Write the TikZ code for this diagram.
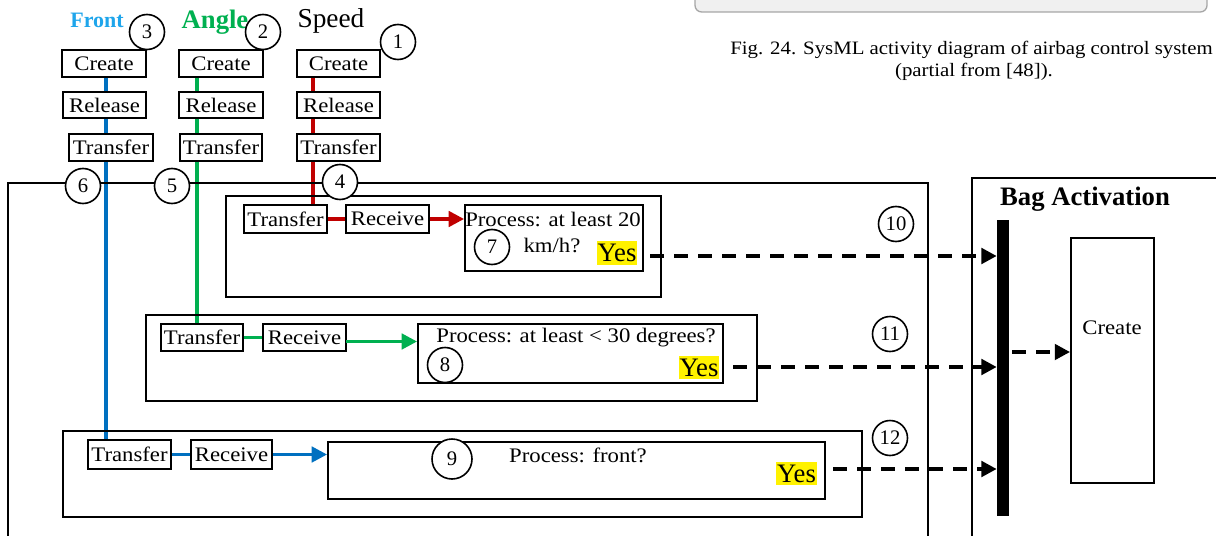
\documentclass[tikz,border=0pt]{standalone}
\usepackage{fontspec}
\setmainfont{Liberation Serif}
\newfontfamily\wide[FakeStretch=1.1]{Liberation Serif}
\usetikzlibrary{arrows.meta,backgrounds,calc}
\definecolor{cred}{RGB}{192,0,0}
\definecolor{cgreen}{RGB}{0,176,80}
\definecolor{cblue}{RGB}{0,112,192}
\definecolor{cfront}{RGB}{30,165,235}
\begin{document}
\begin{tikzpicture}[x=0.75pt,y=-0.75pt,
  sz/.style 2 args={minimum width={#1*0.75pt}, minimum height={#2*0.75pt}},
  abox/.style={draw, line width=1.4pt, fill=white, inner sep=0pt, font=\wide\fontsize{15.5}{18}\selectfont},
  panel/.style={draw, line width=1.4pt, inner sep=0pt},
  ptext/.style={inner sep=0pt, font=\wide\fontsize{15.5}{18}\selectfont},
  num/.style={draw, circle, line width=1.2pt, fill=white, inner sep=0pt, minimum size={35*0.75pt}, font=\fontsize{15.5}{18}\selectfont},
  flow/.style={line width=2.6pt},
  flowarrow/.style={line width=2.6pt, -{Triangle[length=11.5pt,width=11.5pt]}},
  yes/.style={fill=yellow, inner xsep=0.5pt, inner ysep=2pt, font=\fontsize{20}{22}\selectfont},
  signal/.style={line width=3pt, dash pattern=on 10.5pt off 7.5pt, -{Triangle[length=11.5pt,width=11.5pt]}},
  frame/.style={line width=1.4pt}
]
\clip (0,0) rectangle (1216,535);
\useasboundingbox (0,0) rectangle (1216,535);

% remnant of figure above caption
\draw[gray!70, fill=gray!12, rounded corners=5pt, line width=1pt] (695,-20) rectangle (1207,12);

% caption
\node[anchor=base west, inner sep=0pt, font=\wide\fontsize{14.2}{16}\selectfont] (cap1) at (730,55) {Fig. 24. SysML activity diagram of airbag control system};
\node[anchor=base, inner sep=0pt, font=\wide\fontsize{14.2}{16}\selectfont] (cap2) at (974,76) {(partial from [48]).};

% frames
\draw[frame] (8,540) -- (8,183) -- (928,183) -- (928,540);
\draw[frame] (972,540) -- (972,178) -- (1230,178);

% titles
\node[inner sep=0pt, text=cfront, font=\bfseries\fontsize{16.5}{18}\selectfont] (lF) at (97,20) {Front};
\node[inner sep=0pt, text=cgreen, font=\bfseries\fontsize{20}{22}\selectfont] (lA) at (215,22) {Angle};
\node[inner sep=0pt, font=\fontsize{20.5}{22}\selectfont] (lS) at (331,21) {Speed};
\node[inner sep=0pt, font=\bfseries\fontsize{20}{22}\selectfont] (lB) at (1085,199) {Bag Activation};

% top columns
\node[abox, sz={84}{27}] (cF) at (104,63.5) {Create};
\node[abox, sz={83}{26}] (rF) at (104.5,105) {Release};
\node[abox, sz={84}{27}] (tF) at (111,147.5) {Transfer};
\node[abox, sz={84}{27}] (cA) at (221,63.5) {Create};
\node[abox, sz={84}{26}] (rA) at (221,105) {Release};
\node[abox, sz={82}{27}] (tA) at (221,147.5) {Transfer};
\node[abox, sz={83}{27}] (cS) at (338.5,63.5) {Create};
\node[abox, sz={83}{26}] (rS) at (338.5,105) {Release};
\node[abox, sz={83}{27}] (tS) at (338.5,147.5) {Transfer};

% panels
\node[panel, sz={435}{101}] (p1) at (443.5,246.5) {};
\node[panel, sz={611}{86}] (p2) at (451.5,358) {};
\node[panel, sz={799}{86}] (p3) at (462.5,474) {};

% panel 1
\node[abox, sz={83}{28}] (t1) at (285.5,219) {Transfer};
\node[abox, sz={83}{28}] (r1) at (387.5,219) {Receive};
\node[abox, sz={178}{66}] (pr1) at (554,238) {};
\node[ptext] (pt1a) at (553,219) {Process: at least 20};
\node[ptext] (pt1b) at (552,245) {km/h?};
\node[num] (n7) at (492,247) {7};
\node[yes] (y1) at (617,253) {Yes};

% panel 2
\node[abox, sz={82}{27}] (t2) at (202,337.5) {Transfer};
\node[abox, sz={83}{27}] (r2) at (304.5,337.5) {Receive};
\node[abox, sz={305}{59}] (pr2) at (570.5,353.5) {};
\node[ptext] (pt2) at (576,338) {Process: at least < 30 degrees?};
\node[num] (n8) at (445,365) {8};
\node[yes] (y2) at (699,367.5) {Yes};

% panel 3
\node[abox, sz={83}{29}] (t3) at (129.5,454.5) {Transfer};
\node[abox, sz={81}{29}] (r3) at (231.5,454.5) {Receive};
\node[abox, sz={497}{57}] (pr3) at (576.5,470.5) {};
\node[ptext] (pt3) at (578,455) {Process: front?};
\node[num, minimum height={40*0.75pt}] (n9) at (452,459) {9};
\node[yes] (y3) at (796.5,473.5) {Yes};

% numbered circles on frames
\node[num] (n1) at (398,42) {1};
\node[num] (n2) at (263,32) {2};
\node[num] (n3) at (147,32) {3};
\node[num] (n4) at (340,182) {4};
\node[num] (n5) at (172,186) {5};
\node[num] (n6) at (83,186) {6};
\node[num] (n10) at (896,224) {10};
\node[num] (n11) at (890,334) {11};
\node[num] (n12) at (890,438) {12};

% bag activation
\node[fill=black, inner sep=0pt, sz={12}{296}] (bar) at (1003,368) {};
\node[draw, line width=1.4pt, inner sep=0pt, sz={83}{245}] (bigC) at (1112.5,360.5) {};
\node[ptext] (bigCt) at (1112,328) {Create};

% flows
\coordinate (xF) at (106,0);
\coordinate (xA) at (197,0);
\coordinate (xS) at (313,0);
\begin{pgfonlayer}{background}
\draw[flow, cblue] (cF.south -| xF) -- (t3.north -| xF);
\draw[flow, cgreen] (cA.south -| xA) -- (t2.north -| xA);
\draw[flow, cred] (cS.south -| xS) -- (t1.north -| xS);
\draw[flow, cred] (t1.east) -- (r1.west);
\draw[flow, cgreen] (t2.east) -- (r2.west);
\draw[flow, cblue] (t3.east) -- (r3.west);
\end{pgfonlayer}
\draw[flowarrow, cred] (r1.east) -- (r1.east -| pr1.west);
\coordinate (g2) at (346,341.5);
\draw[flowarrow, cgreen] (g2) -- (g2 -| pr2.west);
\draw[flowarrow, cblue] (r3.east) -- (r3.east -| pr3.west);

% signals
\coordinate (s1) at (650,256);
\coordinate (s2) at (733,367);
\coordinate (s3) at (833,469);
\coordinate (s4) at (1012,352);
\draw[signal] (s1) -- (s1 -| bar.west);
\draw[signal] (s2) -- (s2 -| bar.west);
\draw[signal] (s3) -- (s3 -| bar.west);
\draw[signal] (s4) -- (s4 -| bigC.west);
\end{tikzpicture}
\end{document}
